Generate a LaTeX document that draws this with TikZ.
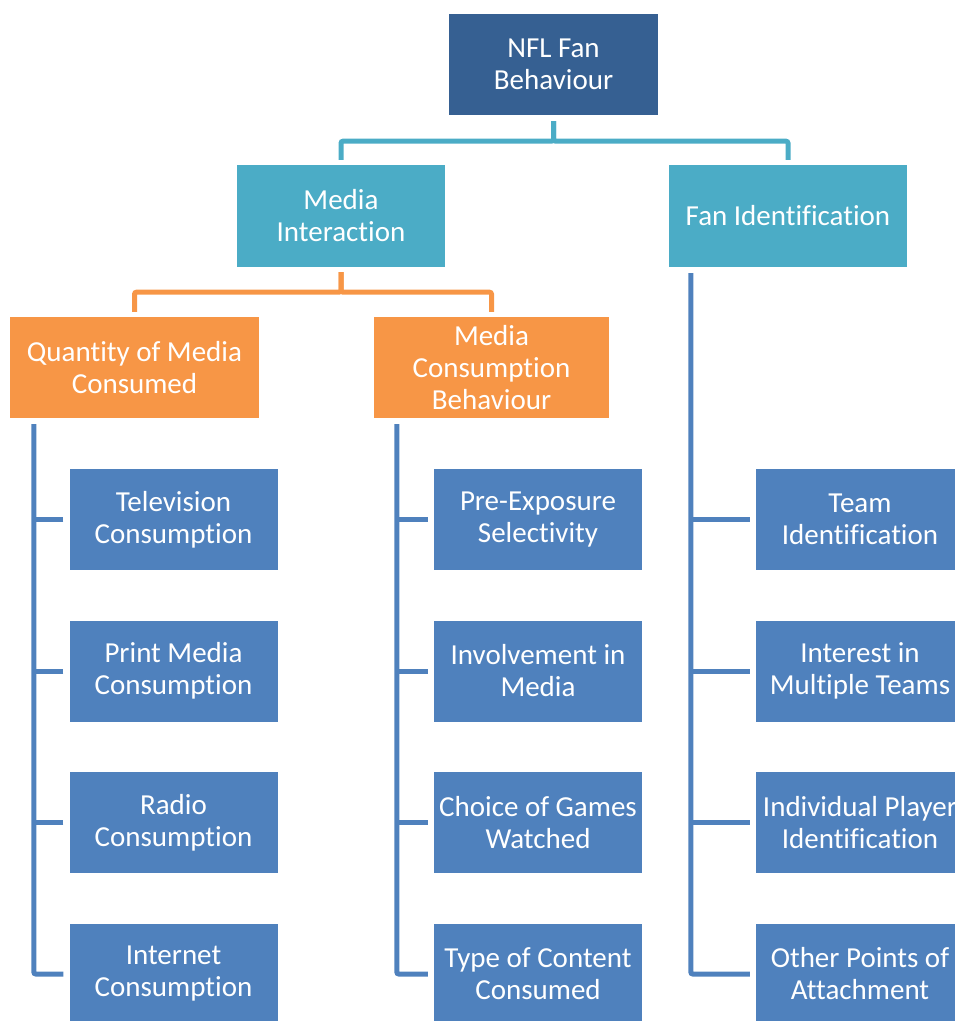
\documentclass[tikz,border=0pt]{standalone}
\usepackage{fontspec}
\setmainfont{Carlito}[Ligatures=NoCommon]
\usetikzlibrary{calc}
\definecolor{darkbox}{RGB}{54,96,146}
\definecolor{tealbox}{RGB}{75,172,198}
\definecolor{orangebox}{RGB}{247,150,70}
\definecolor{bluebox}{RGB}{79,129,189}
\tikzset{
  box/.style={text=white, align=center, inner sep=0pt, font=\fontsize{29}{32}\selectfont},
  topbox/.style={box, fill=darkbox, minimum width=209pt, minimum height=101pt},
  midbox/.style={box, fill=tealbox, minimum height=102pt},
  subbox/.style={box, fill=orangebox, minimum height=101pt},
  leafbox/.style={box, fill=bluebox, minimum width=208pt, minimum height=101pt},
  link/.style={line width=5pt, rounded corners=2pt}
}
\begin{document}
\begin{tikzpicture}[x=1pt, y=-1pt]
  \useasboundingbox (0,0) rectangle (955,1021);
  % top levels
  \node[topbox] (nfl) at (553.5, 64.5) {NFL Fan\\Behaviour};
  \node[midbox, minimum width=208pt] (media) at (341, 216) {Media\\Interaction};
  \node[midbox, minimum width=238pt] (fan) at (788, 216) {Fan Identification};
  \node[subbox, minimum width=249pt] (qty) at (134.5, 367.5) {Quantity of Media\\Consumed};
  \node[subbox, minimum width=235pt] (beh) at (491.5, 367.5) {Media\\Consumption\\Behaviour};
  % left column
  \node[leafbox] (q1) at (173.5, 519.5) {Television\\Consumption};
  \node[leafbox] (q2) at (173.5, 671) {Print Media\\Consumption};
  \node[leafbox] (q3) at (173.5, 822.5) {Radio\\Consumption};
  \node[leafbox] (q4) at (173.5, 974) {Internet\\Consumption};
  % middle column
  \node[leafbox] (b1) at (538, 519.5) {Pre-Exposure\\Selectivity};
  \node[leafbox] (b2) at (538, 671) {Involvement in\\Media};
  \node[leafbox] (b3) at (538, 822.5) {Choice of Games\\Watched};
  \node[leafbox] (b4) at (538, 974) {Type of Content\\Consumed};
  % right column
  \node[leafbox] (f1) at (860, 519.5) {Team\\Identification};
  \node[leafbox] (f2) at (860, 671) {Interest in\\Multiple Teams};
  \node[leafbox] (f3) at (860, 822.5) {Individual Player\\Identification};
  \node[leafbox] (f4) at (860, 974) {Other Points of\\Attachment};

  % connectors
  \draw[link, tealbox, shorten <=6pt, shorten >=5pt] (nfl.south) -- ++(0,26) -| (media.north);
  \draw[link, tealbox, shorten <=6pt, shorten >=5pt] (nfl.south) -- ++(0,26) -| (fan.north);
  \draw[link, orangebox, shorten <=5pt, shorten >=5pt] (media.south) -- ++(0,25) -| (qty.north);
  \draw[link, orangebox, shorten <=5pt, shorten >=5pt] (media.south) -- ++(0,25) -| (beh.north);

  \coordinate (qtrunk) at ($(qty.south west)+(24,6)$);
  \coordinate (btrunk) at ($(beh.south west)+(23,6)$);
  \coordinate (ftrunk) at ($(fan.south west)+(22,6)$);
  \draw[link, bluebox, shorten >=6pt] (qtrunk) |- (q4.west);
  \draw[link, bluebox, shorten >=6pt] (btrunk) |- (b4.west);
  \draw[link, bluebox, shorten >=6pt] (ftrunk) |- (f4.west);
  \foreach \i in {1,2,3} {
    \draw[link, bluebox, shorten <=6pt] (q\i.west) -- (q\i.west -| qtrunk);
    \draw[link, bluebox, shorten <=6pt] (b\i.west) -- (b\i.west -| btrunk);
    \draw[link, bluebox, shorten <=6pt] (f\i.west) -- (f\i.west -| ftrunk);
  }
\end{tikzpicture}
\end{document}
